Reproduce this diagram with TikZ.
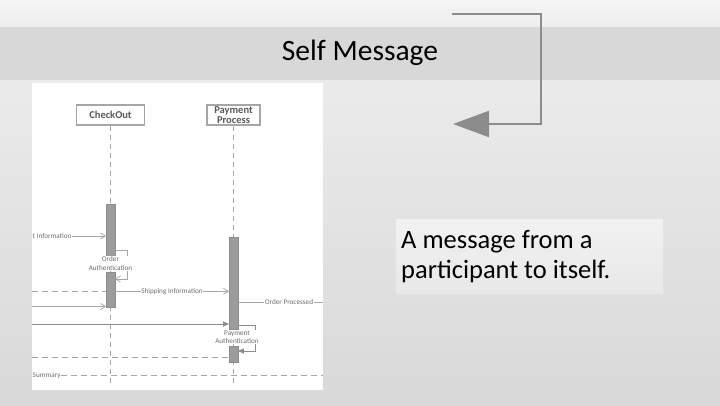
\documentclass[tikz,border=0pt]{standalone}
\usepackage{fontspec}
\setmainfont{Carlito}
\usetikzlibrary{arrows.meta,positioning,calc}
\definecolor{SMarrow}{HTML}{8c8c8c}
\definecolor{SMline}{HTML}{a6a6a6}
\definecolor{SMact}{HTML}{9c9c9c}
\definecolor{SMtext}{HTML}{6e6e6e}
\definecolor{SMband}{HTML}{d8d8d8}
\definecolor{SMbandmid}{HTML}{e8e8e8}

\begin{document}
\begin{tikzpicture}[x=1pt,y=-1pt,
    title/.style={font=\fontsize{29.5}{34}\selectfont,text=black,inner sep=0pt},
    head/.style={draw=SMline,line width=1.3pt,fill=white,minimum height=20,inner sep=1pt,align=center,
      text=SMtext!80!black,font=\bfseries\fontsize{10.5}{10.5}\selectfont},
    life/.style={draw=SMline,line width=0.7pt,dash pattern=on 5pt off 4pt},
    act/.style={fill=SMact,draw=SMact!90!black,line width=0.3pt,minimum width=8.5,inner sep=0pt,anchor=north},
    msg/.style={draw=SMline,line width=0.7pt},
    msgd/.style={msg,dash pattern=on 6pt off 4pt},
    lbl/.style={font=\fontsize{7.2}{8.2}\selectfont,text=SMtext,inner sep=0.5pt,fill=white,align=center},
    open/.style={-{Straight Barb[length=5pt,width=6pt]}},
    solid/.style={-{Triangle[length=6pt,width=5pt]}},
    note/.style={anchor=north west,top color=SMbandmid!60!white,bottom color=SMbandmid,
      minimum width=267,minimum height=74,text width=257,inner sep=5pt,align=flush left,
      font=\fontsize{26.5}{30}\selectfont,text=black}]
  \useasboundingbox (0,0) rectangle (720,405);
  \shade[top color=white!96!black,bottom color=white!93!black] (0,0) rectangle (720,27);
  \shade[top color=SMband,middle color=SMbandmid,bottom color=SMband] (0,27) rectangle (720,80);
  \shade[top color=white!92!black,bottom color=white!85!black] (0,80) rectangle (720,405);

  \node[title,anchor=base] (ttl) at (360,60.7) {Self Message};

  \coordinate (smA) at (452,14);
  \coordinate (smB) at (453,124);
  \draw[SMarrow,line width=2pt,-{Triangle[length=36pt,width=26pt]}] (smA) -- (541,14) |- (smB);

  \fill[white] (32,83) rectangle (323,390);

  \node[head,minimum width=68] (co) at (110.5,115) {CheckOut};
  \node[head,minimum width=53] (pp) at (233.5,115) {Payment\\Process};
  \coordinate (coEnd) at (110.5,385);
  \coordinate (ppEnd) at (233.5,385);
  \draw[life] (co) -- (coEnd);
  \draw[life] (pp) -- (ppEnd);

  \node[act,minimum height=52.7] (coA1) at (110.5,204) {};
  \node[act,minimum height=34.7] (coA2) at (110.5,272) {};
  \node[act,minimum height=92.6] (ppA1) at (233.5,236.7) {};
  \node[act,minimum height=16] (ppA2) at (233.5,345.7) {};

  \node[lbl,anchor=west] (tinf) at (32,236) {t Information};
  \draw[msg,open] (tinf) -- (tinf -| coA1.west);

  \draw[msg,open] (coA1.east |- 0,250) -- (127.3,250) |- (coA2.east |- 0,279);
  \node[lbl] (oauth) at (110.5,263.5) {Order\\Authentication};

  \coordinate (lft1) at (32,291.3);
  \draw[msgd] (lft1) -- (coA2.west |- lft1);
  \draw[msg,open] (coA2.east |- lft1) -- node[lbl]{Shipping Information} (ppA1.west |- lft1);

  \coordinate (rgt1) at (323,302.3);
  \draw[msg] (ppA1.east |- rgt1) -- node[lbl,pos=0.6]{Order Processed} (rgt1);

  \coordinate (lft2) at (32,306.5);
  \draw[msg,open] (lft2) -- (coA2.west |- lft2);

  \coordinate (lft3) at (32,324);
  \draw[msg,draw=SMarrow,solid] (lft3) -- (ppA1.west |- lft3);

  \draw[msg,draw=SMarrow,solid] (ppA1.east |- 0,325) -- (255.7,325) |- (ppA2.east |- 0,351);
  \node[lbl] (pauth) at (237,337) {Payment\\Authentication};

  \coordinate (lft4) at (32,357.3);
  \draw[msgd] (lft4) -- (ppA2.west |- lft4);

  \node[lbl,anchor=west] (summ) at (32,375.7) {Summary};
  \coordinate (rgt2) at (323,375.7);
  \draw[msgd] (summ) -- (rgt2);

  \node[note] (desc) at (396,219.3) {A message from a\\participant to itself.};
\end{tikzpicture}
\end{document}
